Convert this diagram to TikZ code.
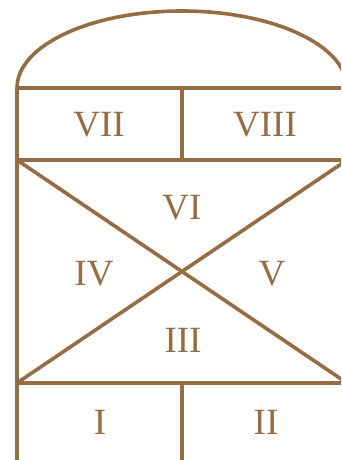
\documentclass[tikz,border=0pt]{standalone}
\usepackage{fontspec}
\setmainfont{Liberation Serif}
\usetikzlibrary{positioning}
\definecolor{wallbrown}{RGB}{150,108,68}
\definecolor{lightbrown}{RGB}{212,178,142}

\begin{document}
\begin{tikzpicture}[
    x=1pt, y=-1pt,
    wall/.style={line width=3.6pt, draw=wallbrown, line cap=round, line join=round},
    numeral/.style={text=wallbrown, font=\fontsize{37}{37}\selectfont, inner sep=0pt}
]
\useasboundingbox (0,0) rectangle (341,460);
\clip (0,0) rectangle (341,460);

% corners of the window
\coordinate (archL) at (17,88);
\coordinate (archR) at (347,88);
\coordinate (midL) at (17,160);
\coordinate (midR) at (347,160);
\coordinate (lowL) at (17,383);
\coordinate (lowR) at (347,383);
\coordinate (footL) at (17,462);
\coordinate (footR) at (347,462);

% frame
\draw[wall] (footL) -- (archL) arc[start angle=180, end angle=0, x radius=165pt, y radius=77pt] -- (footR);
\draw[wall] (archL) -- (archR);
\draw[wall] (midL) -- (midR);
\draw[wall] (lowL) -- (lowR);
\draw[wall] (182,88) -- (182,160);
\draw[wall] (182,383) -- (182,462);
\draw[wall] (midL) -- (lowR);
\draw[wall] (lowL) -- (midR);

% panes
\node[numeral] (p7) at (99,125) {VII};
\node[numeral] (p8) at (265,125) {VIII};
\node[numeral] (p6) at (182,208) {VI};
\node[numeral] (p4) at (94,274) {IV};
\node[numeral] (p5) at (272,274) {V};
\node[numeral] (p3) at (183,340) {III};
\node[numeral] (p1) at (100,422) {I};
\node[numeral] (p2) at (266,422) {II};

\end{tikzpicture}
\end{document}
